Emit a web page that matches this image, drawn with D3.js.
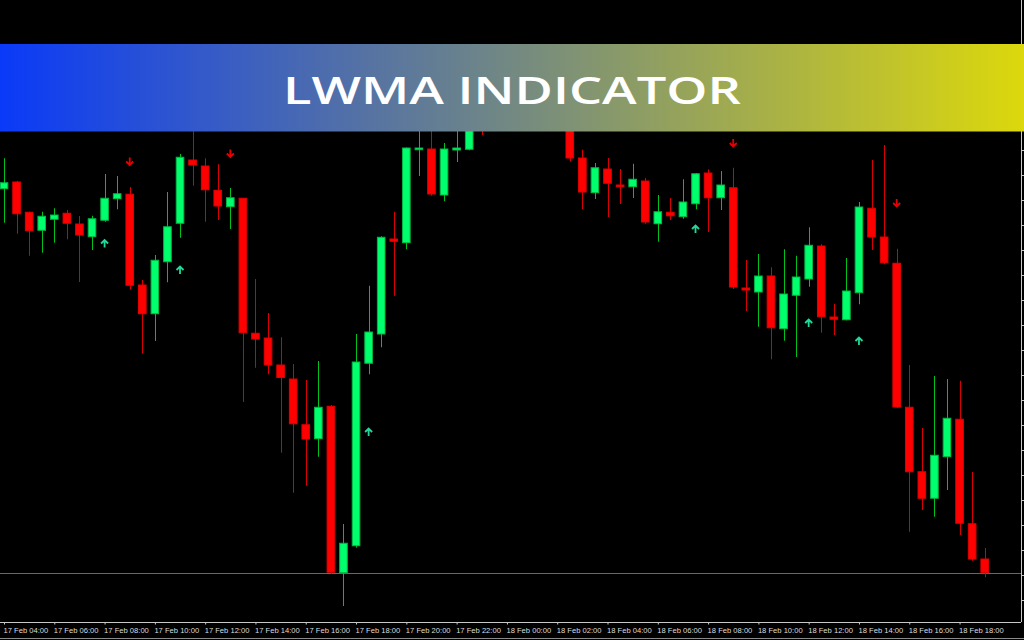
<!DOCTYPE html>
<html>
<head>
<meta charset="utf-8">
<script src="https://d3js.org/d3.v7.min.js"></script>
<style>
  html, body { margin: 0; padding: 0; background: #000; }
  svg { display: block; }
</style>
</head>
<body>
<svg width="1024" height="640"></svg>
<script>
// M30 bars, 17 Feb 04:00 -> 18 Feb 19:00
const startTime = Date.UTC(2022, 1, 17, 4, 0);
const barMinutes = 30;

const opens = [
  1.09645, 1.09672, 1.09551, 1.09479, 1.09523, 1.09547, 1.09504, 1.09453, 1.09519, 1.09605,
  1.09623, 1.09260, 1.09145, 1.09353, 1.09507, 1.09760, 1.09736, 1.09639, 1.09573, 1.09607,
  1.09067, 1.09048, 1.08940, 1.08884, 1.08701, 1.08645, 1.08775, 1.08109, 1.08217, 1.08947,
  1.09064, 1.09444, 1.09429, 1.09801, 1.09804, 1.09620, 1.09800, 1.09803, 1.10060, 1.09920,
  1.10100, 1.10000, 1.10080, 1.09990, 1.10030, 1.09950, 1.09768, 1.09629, 1.09724, 1.09660,
  1.09653, 1.09676, 1.09505, 1.09551, 1.09533, 1.09585, 1.09708, 1.09609, 1.09649, 1.09248,
  1.09232, 1.09296, 1.09085, 1.09219, 1.09284, 1.09416, 1.09132, 1.09121, 1.09229, 1.09567,
  1.09452, 1.09347, 1.08771, 1.08513, 1.08407, 1.08573, 1.08723, 1.08305, 1.08164
];
const highs = [
  1.09767, 1.09676, 1.09553, 1.09553, 1.09567, 1.09560, 1.09536, 1.09537, 1.09704, 1.09696,
  1.09652, 1.09280, 1.09380, 1.09632, 1.09784, 1.09888, 1.09767, 1.09743, 1.09648, 1.09608,
  1.09284, 1.09148, 1.09051, 1.08944, 1.08880, 1.08956, 1.08780, 1.08304, 1.09064, 1.09257,
  1.09455, 1.09553, 1.09810, 1.09940, 1.09920, 1.09828, 1.09960, 1.10000, 1.10100, 1.10150,
  1.10180, 1.10120, 1.10160, 1.10060, 1.10100, 1.09990, 1.09801, 1.09748, 1.09768, 1.09724,
  1.09745, 1.09688, 1.09620, 1.09608, 1.09683, 1.09708, 1.09723, 1.09716, 1.09729, 1.09360,
  1.09384, 1.09331, 1.09403, 1.09377, 1.09491, 1.09423, 1.09185, 1.09368, 1.09592, 1.09760,
  1.09820, 1.09405, 1.08940, 1.08688, 1.08896, 1.08884, 1.08877, 1.08512, 1.08208
];
const lows = [
  1.09509, 1.09465, 1.09377, 1.09389, 1.09429, 1.09443, 1.09272, 1.09400, 1.09513, 1.09563,
  1.09241, 1.08985, 1.09036, 1.09271, 1.09449, 1.09657, 1.09513, 1.09520, 1.09484, 1.08792,
  1.08929, 1.08903, 1.08589, 1.08429, 1.08457, 1.08573, 1.08105, 1.07976, 1.08209, 1.08903,
  1.09011, 1.09217, 1.09403, 1.09696, 1.09617, 1.09595, 1.09752, 1.09799, 1.09860, 1.09900,
  1.09950, 1.09910, 1.09960, 1.09900, 1.09920, 1.09753, 1.09563, 1.09604, 1.09532, 1.09584,
  1.09608, 1.09505, 1.09433, 1.09520, 1.09525, 1.09563, 1.09472, 1.09560, 1.09244, 1.09156,
  1.09093, 1.08963, 1.09037, 1.08972, 1.09253, 1.09069, 1.09060, 1.09119, 1.09183, 1.09400,
  1.09343, 1.08768, 1.08273, 1.08360, 1.08333, 1.08440, 1.08260, 1.08157, 1.08091
];
const closes = [
  1.09669, 1.09545, 1.09477, 1.09535, 1.09540, 1.09507, 1.09460, 1.09525, 1.09607, 1.09625,
  1.09259, 1.09145, 1.09359, 1.09493, 1.09771, 1.09740, 1.09641, 1.09576, 1.09609, 1.09069,
  1.09044, 1.08940, 1.08890, 1.08705, 1.08644, 1.08771, 1.08111, 1.08227, 1.08952, 1.09072,
  1.09451, 1.09435, 1.09808, 1.09808, 1.09624, 1.09804, 1.09808, 1.09960, 1.09920, 1.10100,
  1.10000, 1.10080, 1.09990, 1.10030, 1.09950, 1.09768, 1.09632, 1.09729, 1.09667, 1.09653,
  1.09683, 1.09512, 1.09553, 1.09537, 1.09592, 1.09705, 1.09609, 1.09660, 1.09252, 1.09240,
  1.09296, 1.09089, 1.09224, 1.09292, 1.09419, 1.09133, 1.09123, 1.09236, 1.09572, 1.09452,
  1.09349, 1.08772, 1.08513, 1.08407, 1.08579, 1.08727, 1.08307, 1.08164, 1.08109
];

// LWMA signal arrows: bar index and price level
const upSignals = [
  { bar: 8, price: 1.09426 }, { bar: 14, price: 1.09320 }, { bar: 29, price: 1.08672 },
  { bar: 55, price: 1.09484 }, { bar: 64, price: 1.09108 }, { bar: 68, price: 1.09036 }
];
const downSignals = [
  { bar: 10, price: 1.09754 }, { bar: 18, price: 1.09786 },
  { bar: 58, price: 1.09828 }, { bar: 71, price: 1.09588 }
];

const title = "LWMA INDICATOR";

const svg = d3.select("svg");
const width = +svg.attr("width");
const height = +svg.attr("height");

const axisX = 1021;   // price scale edge
const axisY = 622;    // time scale edge

const bars = opens.map((o, i) => ({
  t: new Date(startTime + i * barMinutes * 60000),
  o, h: highs[i], l: lows[i], c: closes[i]
}));

const x = d3.scaleUtc()
  .domain([bars[0].t, bars[bars.length - 1].t])
  .range([4, 984.7]);

const y = d3.scaleLinear()
  .domain([1.08, 1.0988])
  .range([600, 130]);

svg.append("rect").attr("width", width).attr("height", height).attr("fill", "#000");

const plot = svg.append("g");

// bid line
const bidY = Math.round(y(closes[closes.length - 1])) + 0.5;
plot.append("line")
  .attr("x1", 0).attr("x2", axisX)
  .attr("y1", bidY).attr("y2", bidY)
  .attr("stroke", "#5e6a74");

const up = d => d.c >= d.o;

plot.selectAll(".wick")
  .data(bars)
  .join("line")
  .attr("class", "wick")
  .attr("x1", d => Math.round(x(d.t)) + 0.5)
  .attr("x2", d => Math.round(x(d.t)) + 0.5)
  .attr("y1", d => y(d.h))
  .attr("y2", d => y(d.l))
  .attr("stroke", d => up(d) ? "#00c21a" : "#d80000")
  .attr("stroke-width", 1);

const bodyW = 7.6;
plot.selectAll(".body")
  .data(bars)
  .join("rect")
  .attr("class", "body")
  .attr("x", d => x(d.t) - bodyW / 2)
  .attr("y", d => y(Math.max(d.o, d.c)))
  .attr("width", bodyW)
  .attr("height", d => Math.max(1, Math.abs(y(d.o) - y(d.c))))
  .attr("fill", d => up(d) ? "#00ff6c" : "#ff0000")
  .attr("stroke", d => up(d) ? "#00b845" : "#e00000")
  .attr("stroke-width", 1);

// signal arrows
const arrowUp = "M-3.5,0 L0,-3.5 L3.5,0 M0,-3 L0,4";
const arrowDown = "M-3.5,0 L0,3.5 L3.5,0 M0,3 L0,-4";

plot.selectAll(".up-arrow")
  .data(upSignals)
  .join("path")
  .attr("class", "up-arrow")
  .attr("transform", d => `translate(${x(bars[d.bar].t)}, ${y(d.price)})`)
  .attr("d", arrowUp)
  .attr("fill", "none")
  .attr("stroke", "#1fd89c")
  .attr("stroke-width", 1.8);

plot.selectAll(".down-arrow")
  .data(downSignals)
  .join("path")
  .attr("class", "down-arrow")
  .attr("transform", d => `translate(${x(bars[d.bar].t)}, ${y(d.price)})`)
  .attr("d", arrowDown)
  .attr("fill", "none")
  .attr("stroke", "#e80000")
  .attr("stroke-width", 1.8);

// price scale: only the tick marks sit inside the window
const yAxisG = svg.append("g")
  .attr("transform", `translate(${axisX + 0.5}, 0)`)
  .call(d3.axisRight(y).ticks(25).tickSize(3).tickFormat(""));
yAxisG.select(".domain").attr("stroke", "#c8c8c8").attr("d", `M0,0V${axisY}`);
yAxisG.selectAll(".tick line").attr("stroke", "#c8c8c8");

// time scale
const xAxisG = svg.append("g")
  .attr("transform", `translate(0, ${axisY + 0.5})`)
  .call(d3.axisBottom(x)
    .ticks(d3.utcHour.every(2))
    .tickSize(2)
    .tickFormat(d3.utcFormat("%d %b %H:%M")));
xAxisG.select(".domain").attr("stroke", "#c8c8c8").attr("d", `M0,0H${axisX}`);
xAxisG.selectAll(".tick line").attr("stroke", "#c8c8c8");
xAxisG.selectAll("text")
  .attr("fill", "#dcdcdc")
  .attr("text-anchor", "start")
  .attr("x", -1)
  .attr("y", 5)
  .style("font", "7.6px 'Liberation Sans', Arial, sans-serif");

svg.append("line")
  .attr("x1", 0).attr("x2", width)
  .attr("y1", 638.5).attr("y2", 638.5)
  .attr("stroke", "#8a8a8a");

// title banner
const grad = svg.append("defs").append("linearGradient")
  .attr("id", "bannerGrad")
  .attr("x1", "0%").attr("x2", "100%");
grad.append("stop").attr("offset", "0%").attr("stop-color", "#0a3af8");
grad.append("stop").attr("offset", "100%").attr("stop-color", "#dcd80c");

svg.append("rect")
  .attr("x", 0).attr("y", 44)
  .attr("width", width).attr("height", 87.5)
  .attr("fill", "url(#bannerGrad)");

svg.append("text")
  .attr("x", width / 2)
  .attr("y", 104)
  .attr("text-anchor", "middle")
  .attr("fill", "#fff")
  .attr("textLength", 458)
  .attr("lengthAdjust", "spacingAndGlyphs")
  .style("font", "600 38px 'Open Sans', Inter, sans-serif")
  .text(title);
</script>
</body>
</html>
